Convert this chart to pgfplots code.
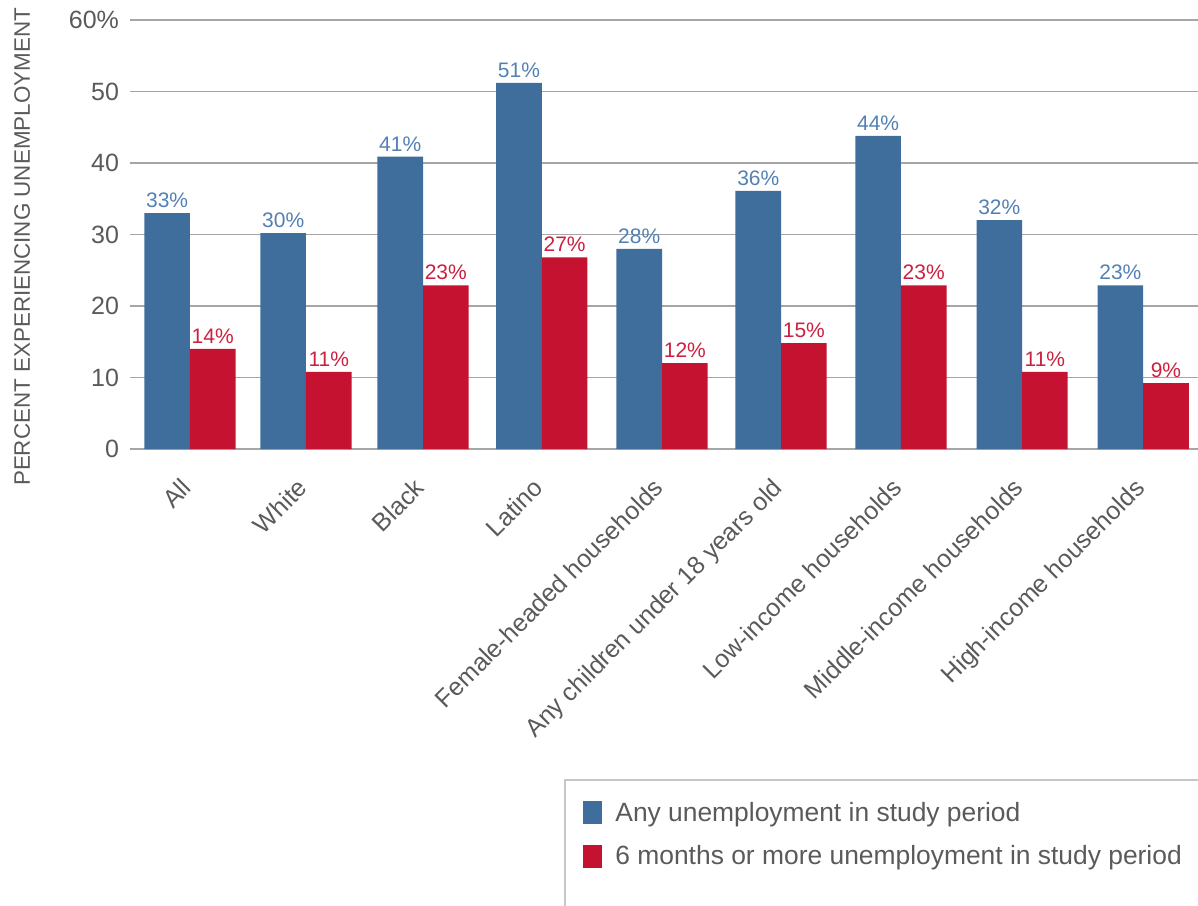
\documentclass[border=0pt]{standalone}
\usepackage{pgfplots}
\pgfplotsset{compat=1.18}
\usepackage{pgfplotstable}
\usepackage{fontspec}
\setmainfont{Liberation Sans}
\definecolor{cblue}{HTML}{3F6D9C}
\definecolor{cred}{HTML}{C41230}
\definecolor{lblue}{HTML}{5380B4}
\definecolor{lred}{HTML}{CC2040}
\definecolor{txt}{HTML}{5A5A5A}
\definecolor{gridc}{HTML}{A6A6A6}
\pgfplotstableread{
x y lab
0     33.0 33
0.974 30.2 30
1.956 40.9 41
2.953 51.2 51
3.962 28.0 28
4.961 36.1 36
5.967 43.8 44
6.984 32.0 32
8     22.9 23
}\anyU
\pgfplotstableread{
x y lab
0     14.0 14
0.974 10.8 11
1.956 22.9 23
2.953 26.8 27
3.962 12.0 12
4.961 14.8 15
5.967 22.9 23
6.984 10.8 11
8     9.2 9
}\longU
\begin{document}
\begin{tikzpicture}
\begin{axis}[
  at={(0,0)}, anchor=south west,
  scale only axis,
  width=534pt, height=214.5pt,
  ybar=0pt, bar width=22.8pt,
  xmin=-0.503, xmax=8.46,
  ymin=0, ymax=60,
  ytick={0,10,20,30,40,50,60},
  yticklabels={0,10,20,30,40,50,60\%},
  xtick=data,
  xticklabels={All,White,Black,Latino,Female-headed households,Any children under 18 years old,Low-income households,Middle-income households,High-income households},
  axis line style={draw=none},
  major tick length=0pt,
  ymajorgrids,
  grid style={gridc, line width=0.6pt},
  yticklabel style={font=\fontsize{12.5}{14}\selectfont, text=txt, xshift=-2pt},
  xticklabel style={font=\fontsize{12.5}{14}\selectfont, text=txt, rotate=45, anchor=north east, inner sep=1pt, xshift=-12.3pt, yshift=-5.2pt},
  ylabel={PERCENT EXPERIENCING UNEMPLOYMENT},
  ylabel style={font=\fontsize{11.2}{13}\selectfont, text=txt, at={(axis description cs:-0.101,0.471)}, anchor=center},
  nodes near coords={\pgfplotspointmeta\%},
  point meta=explicit symbolic,
  every node near coord/.append style={font=\fontsize{10.5}{12}\selectfont, inner sep=2.5pt},
  legend style={draw=none, fill=none, at={(axis description cs:0.4073,-0.7716)}, anchor=north west,
    font=\fontsize{13.2}{15}\selectfont, text=txt, row sep=6.5pt, inner xsep=9pt, inner ysep=9pt,
    /tikz/every even column/.append style={column sep=3pt}},
  legend cell align=left,
  legend image code/.code={\fill[#1] (0pt,-5.5pt) rectangle (9.5pt,6pt);},
  legend style={/tikz/every odd column/.append style={column sep=4.5pt}},
  clip=false,
]
\addplot[fill=cblue, draw=none, every node near coord/.append style={text=lblue}] table[x=x, y=y, meta=lab] {\anyU};
\addlegendentry{Any unemployment in study period}
\addplot[fill=cred, draw=none, every node near coord/.append style={text=lred}] table[x=x, y=y, meta=lab] {\longU};
\addlegendentry{6 months or more unemployment in study period}
\end{axis}
\draw[gray!45, line width=0.8pt] (217.5pt,-240pt) |- (545pt,-165.5pt);
\pgfresetboundingbox
\useasboundingbox (-65pt,-228pt) rectangle (534pt,224.5pt);
\end{tikzpicture}
\end{document}
